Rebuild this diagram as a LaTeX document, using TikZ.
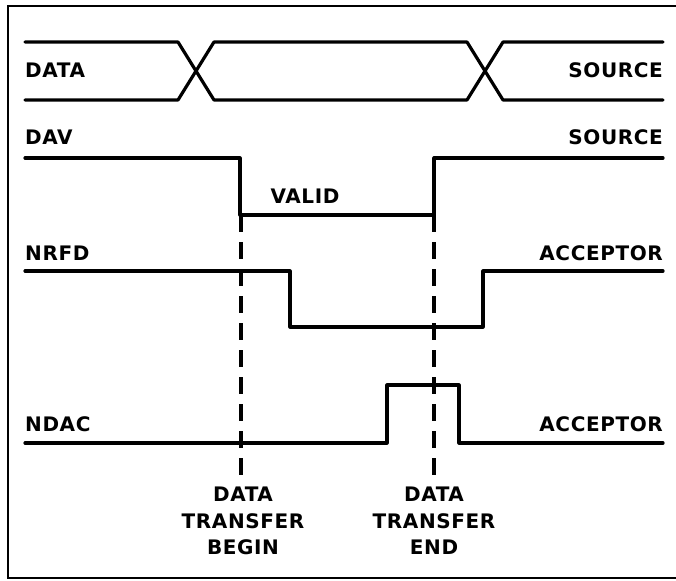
\documentclass[tikz,border=0pt]{standalone}
\usepackage{fontspec}
\newfontfamily\plotfont{DejaVu Sans}[LetterSpace=3]
\begin{document}
\begin{tikzpicture}[x=1pt,y=-1pt,
  sig/.style={line width=3.2pt, line join=round, line cap=round},
  frame/.style={line width=1.8pt},
  guide/.style={line width=3.2pt, dash pattern=on 17pt off 10pt},
  lbl/.style={font=\plotfont\bfseries\fontsize{20}{26.5}\selectfont, inner sep=0pt}]
\useasboundingbox (0,0) rectangle (676,580);
% frame
\draw[frame] (676,6) -- (8,6) -- (8,578) -- (676,578);
% DATA bus
\draw[sig] (25,42) -- (178,42) -- (214,100) -- (467,100) -- (503,42) -- (663,42);
\draw[sig] (25,100) -- (178,100) -- (214,42) -- (467,42) -- (503,100) -- (663,100);
% DAV
\draw[sig] (25,158) -- (240,158) -- (240,215) -- (434,215) -- (434,158) -- (663,158);
% NRFD
\draw[sig] (25,271) -- (290,271) -- (290,327) -- (483,327) -- (483,271) -- (663,271);
% NDAC
\draw[sig] (25,443) -- (387,443) -- (387,385) -- (459,385) -- (459,443) -- (663,443);
% guide lines
\coordinate (b1) at (241,215);
\coordinate (b2) at (241,482);
\coordinate (e1) at (434,215);
\coordinate (e2) at (434,482);
\draw[guide] (b1) -- (b2);
\draw[guide] (e1) -- (e2);
% labels
\node[lbl, anchor=base west] (ldata) at (25,78) {DATA};
\node[lbl, anchor=base east] (lsrc1) at (663,78) {SOURCE};
\node[lbl, anchor=base west] (ldav) at (25,145) {DAV};
\node[lbl, anchor=base east] (lsrc2) at (663,145) {SOURCE};
\node[lbl, anchor=base] (lvalid) at (305,203) {VALID};
\node[lbl, anchor=base west] (lnrfd) at (25,260) {NRFD};
\node[lbl, anchor=base east] (lacc1) at (663,260) {ACCEPTOR};
\node[lbl, anchor=base west] (lndac) at (25,431) {NDAC};
\node[lbl, anchor=base east] (lacc2) at (663,431) {ACCEPTOR};
\node[lbl, anchor=north, align=center] (lbegin) at (243,487) {DATA\\TRANSFER\\BEGIN};
\node[lbl, anchor=north, align=center] (lend) at (434,487) {DATA\\TRANSFER\\END};
\end{tikzpicture}
\end{document}
